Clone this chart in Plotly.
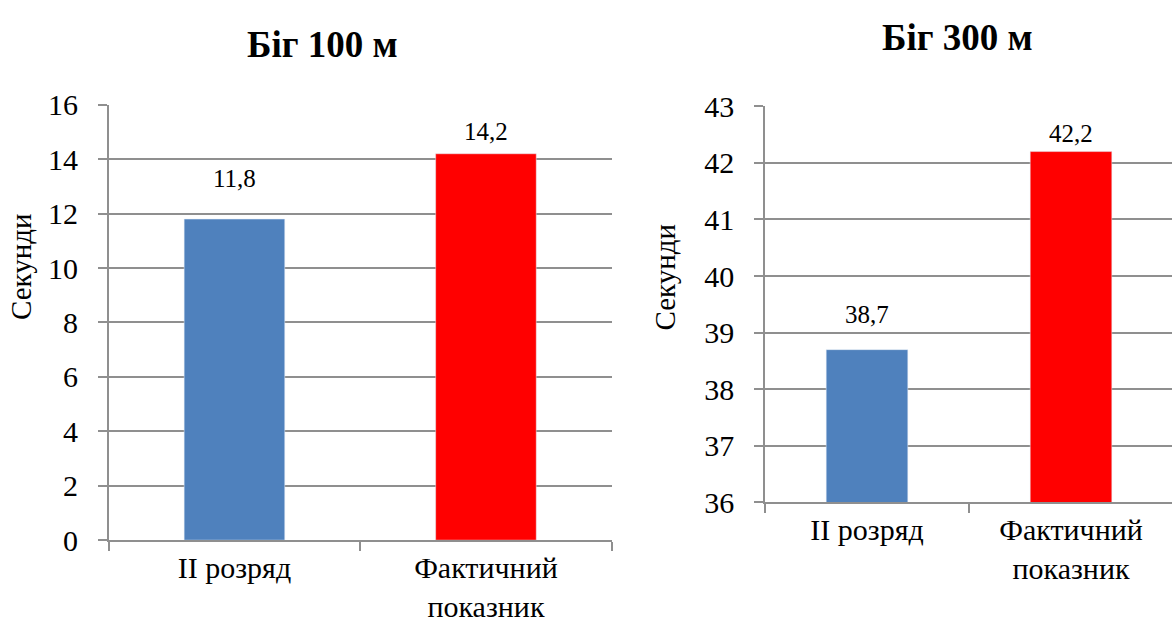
import plotly.graph_objects as go

# Data
categories = ["II розряд", "Фактичний<br>показник"]
run100_values = [11.8, 14.2]
run300_values = [38.7, 42.2]
bar_colors = ["#4F81BD", "#FF0000"]

titles = ["Біг 100 м", "Біг 300 м"]
y_title = "Секунди"

y100_ticks = [0, 2, 4, 6, 8, 10, 12, 14, 16]
y300_ticks = [36, 37, 38, 39, 40, 41, 42, 43]

# Vertical offsets (px) of the value labels above each bar
label_shift_100 = [31, 13]
label_shift_300 = [26, 9]

W, H = 1172, 640
SERIF = "Liberation Serif"
GRID = "#8f8f8f"


def fmt(v):
    return f"{v:.1f}".replace(".", ",")


fig = go.Figure()

fig.add_trace(go.Bar(
    x=categories, y=run100_values, marker_color=bar_colors, width=0.4,
    xaxis="x", yaxis="y", showlegend=False, hoverinfo="x+y",
))
fig.add_trace(go.Bar(
    x=categories, y=run300_values, marker_color=bar_colors, width=0.4,
    xaxis="x2", yaxis="y2", showlegend=False, hoverinfo="x+y",
))

axis_common = dict(
    showline=True, linecolor=GRID, linewidth=1.5,
    ticks="outside", tickcolor=GRID, ticklen=9, tickwidth=1.5,
    tickfont=dict(family=SERIF, size=30, color="#000000"),
)

fig.update_layout(
    width=W, height=H,
    margin=dict(l=0, r=0, t=0, b=0),
    paper_bgcolor="white", plot_bgcolor="white",
    font=dict(family=SERIF, color="#000000"),
    xaxis=dict(
        domain=[108.7 / W, 611.7 / W], anchor="y",
        type="category", range=[-0.5, 1.5], tickson="boundaries",
        showgrid=False, **axis_common,
    ),
    yaxis=dict(
        domain=[1 - 552.5 / H, 1 - 92.7 / H], anchor="x",
        range=[0, 16], tickvals=y100_ticks,
        showgrid=True, gridcolor=GRID, gridwidth=1.5, zeroline=False,
        ticklabelstandoff=14, **axis_common,
    ),
    xaxis2=dict(
        domain=[765 / W, 1.0], anchor="y2",
        type="category", range=[-0.5, 1.495], tickson="boundaries",
        showgrid=False, **axis_common,
    ),
    yaxis2=dict(
        domain=[1 - 512.7 / H, 1 - 94.3 / H], anchor="x2",
        range=[36, 43], tickvals=y300_ticks,
        showgrid=True, gridcolor=GRID, gridwidth=1.5, zeroline=False,
        ticklabelstandoff=14, **axis_common,
    ),
)

annotations = []

# Value labels above the bars
for xa, ya, vals, shifts in (("x", "y", run100_values, label_shift_100),
                             ("x2", "y2", run300_values, label_shift_300)):
    for cat, v, s in zip(categories, vals, shifts):
        annotations.append(dict(
            x=cat, y=v, xref=xa, yref=ya, text=fmt(v), showarrow=False,
            yanchor="bottom", yshift=s - 6,
            font=dict(family=SERIF, size=25, color="#000000"),
        ))

# Chart titles
for text, cx, cy in ((titles[0], 322, 29), (titles[1], 957, 22)):
    annotations.append(dict(
        x=cx / W, y=1 - cy / H, xref="paper", yref="paper", text=f"<b>{text}</b>",
        showarrow=False, xanchor="center", yanchor="middle",
        font=dict(family=SERIF, size=37, color="#000000"),
    ))

# Y-axis titles
for cx, cy in ((21, 264), (665, 274)):
    annotations.append(dict(
        x=cx / W, y=1 - cy / H, xref="paper", yref="paper", text=y_title,
        showarrow=False, textangle=-90, xanchor="center", yanchor="middle",
        font=dict(family=SERIF, size=29, color="#000000"),
    ))

fig.update_layout(annotations=annotations)

fig.write_html("out.html")
